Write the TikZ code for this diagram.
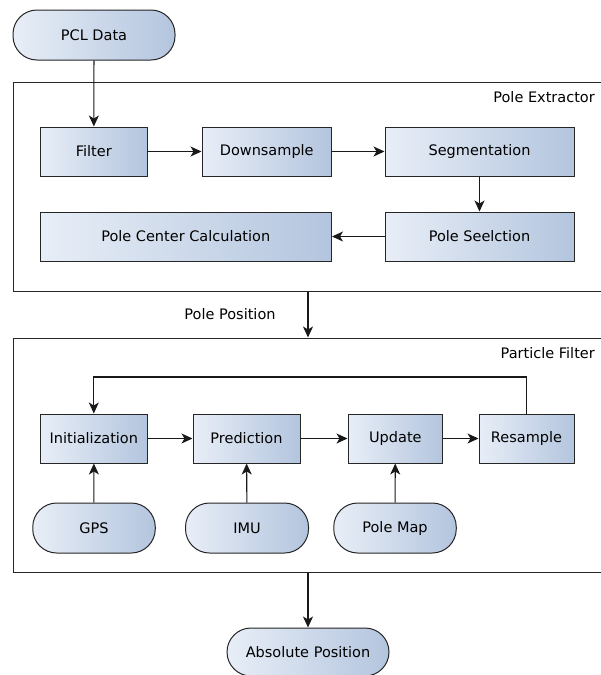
\documentclass[tikz,border=0pt]{standalone}
\usepackage{fontspec}
\setmainfont{DejaVu Sans}
\usetikzlibrary{arrows.meta}
\definecolor{lightb}{HTML}{E8EEF7}
\definecolor{darkb}{HTML}{B3C5DE}
\tikzset{
  box/.style={draw=black!85, line width=1pt, left color=lightb, right color=darkb, minimum height=49pt, inner sep=0pt, font=\fontsize{14.5}{16}\selectfont},
  term/.style={box, rounded corners=24pt, minimum height=50pt},
  frame/.style={draw=black!85, line width=1pt, inner sep=0pt},
  arr/.style={-{Stealth[length=11pt,width=10pt,inset=3pt]}, line width=1.1pt, black!90},
  lbl/.style={font=\fontsize{14.5}{16}\selectfont, inner sep=0pt}
}
\begin{document}
\begin{tikzpicture}[x=1pt,y=-1pt]
\useasboundingbox (0,0) rectangle (601,675);
% frames
\node[frame, minimum width=590pt, minimum height=209pt] (ext) at (308,186.5) {};
\node[frame, minimum width=590pt, minimum height=234pt] (pf) at (308,455) {};
\node[lbl, anchor=east] (extl) at (595,97) {Pole Extractor};
\node[lbl, anchor=east] (pfl) at (595,353) {Particle Filter};
% top
\node[term, minimum width=162pt] (pcl) at (94,35) {PCL Data};
\node[box, minimum width=107.6pt] (filter) at (93.8,151.5) {Filter};
\node[box, minimum width=129.5pt] (down) at (266.75,151.5) {Downsample};
\node[box, minimum width=189pt] (seg) at (479.5,151.5) {Segmentation};
\node[box, minimum width=189pt] (sel) at (479.5,236.5) {Pole Seelction};
\node[box, minimum width=291.5pt] (pcc) at (185.75,236.5) {Pole Center Calculation};
% particle filter
\node[box, minimum width=107.6pt] (init) at (93.8,438.5) {Initialization};
\node[box, minimum width=107pt] (pred) at (246.5,438.5) {Prediction};
\node[box, minimum width=94.7pt] (upd) at (395.35,438.5) {Update};
\node[box, minimum width=95pt] (res) at (526.5,438.5) {Resample};
\node[term, minimum width=122.5pt] (gps) at (94,528) {GPS};
\node[term, minimum width=123pt] (imu) at (247,528) {IMU};
\node[term, minimum width=122.5pt] (map) at (395,528) {Pole Map};
\node[term, minimum width=162pt, minimum height=48pt] (abs) at (308,652) {Absolute Position};
\node[lbl] (pp) at (230,314) {Pole Position};
% connectors
\draw[arr] (pcl) -- (filter);
\draw[arr] (filter) -- (down);
\draw[arr] (down) -- (seg);
\draw[arr] (seg) -- (sel);
\draw[arr] (sel) -- (pcc);
\draw[arr] (ext.south -| abs) -- (pf.north -| abs);
\draw[arr] (init) -- (pred);
\draw[arr] (pred) -- (upd);
\draw[arr] (upd) -- (res);
\draw[arr] (res.north) -- ++(0,-36.5) -| (init.north);
\draw[arr] (gps) -- (init);
\draw[arr] (imu) -- (pred);
\draw[arr] (map) -- (upd);
\draw[arr] (pf.south -| abs) -- (abs);
\end{tikzpicture}
\end{document}
